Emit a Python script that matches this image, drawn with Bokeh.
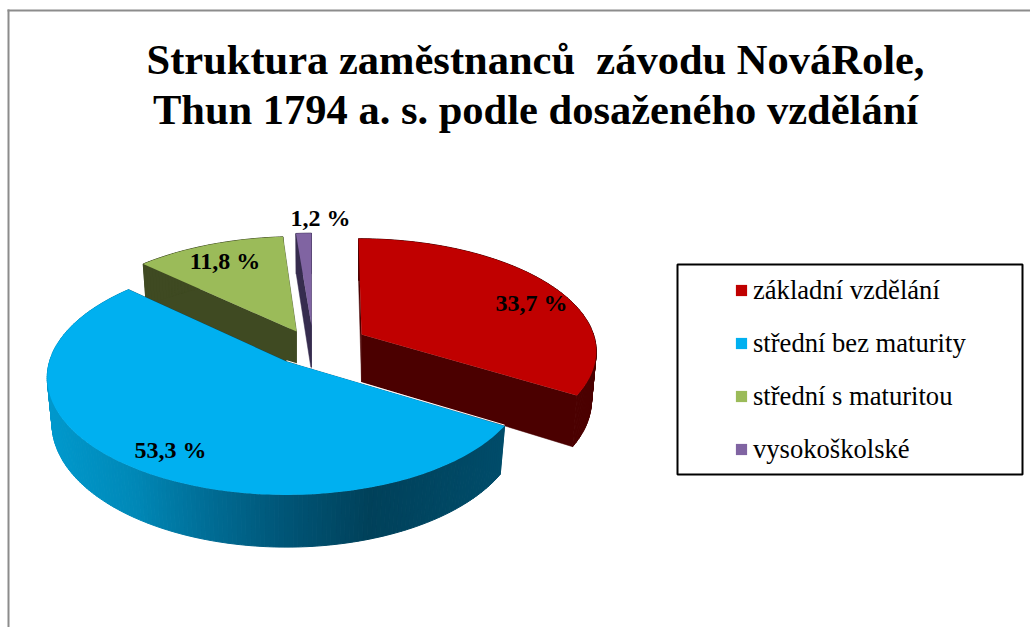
import math
from bokeh.embed import file_html
from bokeh.resources import INLINE
from bokeh.plotting import figure
from bokeh.models import Range1d, Legend, LegendItem
from bokeh.core.properties import value

# ---- data ----
title_lines = ["Struktura zaměstnanců  závodu NováRole,",
               "Thun 1794 a. s. podle dosaženého vzdělání"]
categories = ["základní vzdělání", "střední bez maturity", "střední s maturitou", "vysokoškolské"]
shares = [33.7, 53.3, 11.8, 1.2]

# ---- style / layout ----
top_colors = ["#c00000", "#00b0f0", "#9bbb59", "#8064a2"]
side_colors = ["#4b0000", "#004a68", "#3f4a22", "#362c4e"]
# each slice's own exploded centre and radii, in page pixels
centres = [(361, 334), (286, 361), (296, 331), (311, 325)]
radii = [(232, 109), (237, 115), (232, 108), (235, 105)]
skews = [3.4, 0, -2, 0]
depths = [47.5, 45, 46, 46]
draw_order = [3, 2, 0, 1]
label_xy = [(531, 302), (170, 449), (224.5, 260), (320, 217)]
title_xy = [(535, 59), (535, 108.5)]
blue_ramp_x = [50, 130, 200, 280, 370, 505]
blue_ramp_c = [(0, 152, 204), (0, 137, 184), (0, 111, 152), (0, 86, 120), (0, 65, 90), (0, 76, 106)]
PERSP = 0.138
SHRINK = 0.98

W, H = 1030, 627
p = figure(width=W, height=H, x_range=Range1d(0, W), y_range=Range1d(H, 0),
           output_backend="svg", toolbar_location=None, min_border=0,
           x_axis_type=None, y_axis_type=None, background_fill_color="white",
           border_fill_color="white", outline_line_color=None)
p.grid.visible = False


def proj(i, theta):
    cx, cy = centres[i]
    a, b = radii[i]
    u, v = math.sin(theta), math.cos(theta)
    f = 1 / (1 + PERSP * v)
    return cx + (a * u - skews[i] * v) * f, cy - b * v * f, f


def lower(i, pt):
    cx = centres[i][0]
    return cx + (pt[0] - cx) * SHRINK, pt[1] + depths[i] * pt[2]


def ramp(x):
    if x <= blue_ramp_x[0]:
        c = blue_ramp_c[0]
    elif x >= blue_ramp_x[-1]:
        c = blue_ramp_c[-1]
    else:
        for k in range(len(blue_ramp_x) - 1):
            if blue_ramp_x[k] <= x <= blue_ramp_x[k + 1]:
                t = (x - blue_ramp_x[k]) / (blue_ramp_x[k + 1] - blue_ramp_x[k])
                c = [blue_ramp_c[k][j] + t * (blue_ramp_c[k + 1][j] - blue_ramp_c[k][j]) for j in range(3)]
                break
    return "#%02x%02x%02x" % tuple(int(round(q)) for q in c)


# frame of the source page
p.line([8, 8], [H, 9], line_color="#8c8c8c", line_width=2)
p.line([7, W], [10, 10], line_color="#8c8c8c", line_width=2)

# slice angles from the values
total = sum(shares)
starts, ends = [], []
acc = 0.0
for s in shares:
    starts.append(2 * math.pi * acc / total)
    acc += s
    ends.append(2 * math.pi * acc / total)

renderers = {}
for i in draw_order:
    n = max(3, int(math.degrees(ends[i] - starts[i])))
    thetas = [starts[i] + (ends[i] - starts[i]) * k / n for k in range(n + 1)]
    pts = [proj(i, t) for t in thetas]
    low = [lower(i, q) for q in pts]
    apex = (centres[i][0], centres[i][1], 1.0)
    apex_low = lower(i, apex)

    # the two cut faces
    for q, l in ((pts[0], low[0]), (pts[-1], low[-1])):
        p.patch([apex[0], q[0], l[0], apex_low[0]], [apex[1], q[1], l[1], apex_low[1]],
                fill_color=side_colors[i], line_color=side_colors[i], line_width=0.5)

    # outer wall, in strips so that the blue one can carry its shading
    xs, ys, cols = [], [], []
    for k in range(n):
        xs.append([pts[k][0], pts[k + 1][0], low[k + 1][0], low[k][0]])
        ys.append([pts[k][1], pts[k + 1][1], low[k + 1][1], low[k][1]])
        cols.append(ramp((pts[k][0] + pts[k + 1][0]) / 2) if i == 1 else side_colors[i])
    p.patches(xs, ys, fill_color=cols, line_color=cols, line_width=1)

    # top surface
    renderers[i] = p.patch([apex[0]] + [q[0] for q in pts], [apex[1]] + [q[1] for q in pts],
                           fill_color=top_colors[i], line_color=None)
    if i == 1:
        p.line([apex[0], pts[0][0]], [apex[1] - 0.8, pts[0][1] - 0.8], line_color="white", line_width=1)

# value labels
p.text([q[0] for q in label_xy], [q[1] for q in label_xy],
       text=[f"{s:.1f} %".replace(".", ",") for s in shares],
       text_font=value("Liberation Serif"), text_font_style="bold", text_font_size="24px",
       text_color="black", text_align="center", text_baseline="alphabetic")

# title (the no-break space keeps the double gap of the source in the SVG text)
p.text([q[0] for q in title_xy], [q[1] for q in title_xy],
       text=[t.replace("  ", "\u00a0 ") for t in title_lines], text_font=value("Liberation Serif"),
       text_font_style="bold", text_font_size="42.5px", text_color="black",
       text_align="center", text_baseline="alphabetic")

# legend frame and legend
p.quad(left=[677], right=[1022], top=[264], bottom=[474], fill_color="white",
       line_color="black", line_width=2, level="annotation")
legend = Legend(items=[LegendItem(label=c, renderers=[renderers[i]]) for i, c in enumerate(categories)],
                location=(734, 162), padding=0, margin=0, spacing=21,
                glyph_width=14, glyph_height=14, label_standoff=5, label_height=32,
                label_text_font="Liberation Serif", label_text_font_size="26.6px",
                label_text_color="black", border_line_color=None, background_fill_alpha=0)
p.add_layout(legend, "center")

open("out.html", "w").write(file_html(p, INLINE))
